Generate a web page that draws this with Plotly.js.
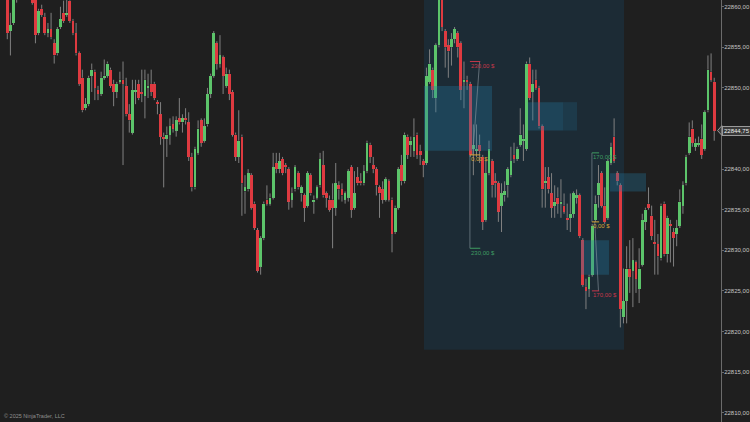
<!DOCTYPE html>
<html>
<head>
<meta charset="utf-8">
<script src="https://cdn.plot.ly/plotly-3.0.1.min.js"></script>
<style>
  html, body { margin: 0; padding: 0; background: #1f1f1f; }
  #chart { width: 750px; height: 422px; }
</style>
</head>
<body>
<div id="chart"></div>
<script>
// NQ 1-minute bars (OHLC), oldest first
const opens = [
  22862.0, 22857.0, 22858.0, 22863.0, 22861.0, 22862.5, 22864.0, 22863.0, 22861.75, 22861.0,
  22856.75, 22859.75, 22858.75, 22856.75, 22857.25, 22855.5, 22854.25, 22857.5, 22859.25, 22859.0,
  22860.75, 22858.25, 22856.75, 22854.25, 22851.25, 22847.5, 22848.0, 22851.5, 22852.0, 22849.75,
  22849.25, 22851.25, 22851.5, 22852.25, 22850.5, 22849.5, 22850.75, 22851.0, 22850.25, 22846.75,
  22844.5, 22849.5, 22850.5, 22849.5, 22849.0, 22850.0, 22850.5, 22850.5, 22848.25, 22846.75,
  22844.0, 22843.75, 22844.25, 22845.5, 22844.75, 22846.25, 22845.75, 22846.25, 22845.75, 22841.5,
  22837.75, 22842.0, 22846.0, 22843.5, 22845.5, 22849.25, 22851.5, 22855.5, 22853.0, 22853.75,
  22850.25, 22851.75, 22849.5, 22844.25, 22841.5, 22844.0, 22837.25, 22837.5, 22839.25, 22835.75,
  22832.5, 22828.0, 22831.5, 22836.25, 22835.75, 22836.5, 22840.75, 22840.0, 22841.25, 22840.5,
  22840.0, 22836.25, 22837.5, 22839.5, 22837.0, 22836.75, 22835.5, 22839.25, 22836.0, 22836.5,
  22838.0, 22840.5, 22837.0, 22836.25, 22836.25, 22835.25, 22838.0, 22837.5, 22836.25, 22836.5,
  22840.25, 22835.25, 22839.0, 22838.5, 22838.25, 22839.75, 22843.0, 22840.5, 22840.0, 22837.75,
  22837.5, 22836.25, 22838.5, 22836.25, 22832.25, 22835.25, 22840.5, 22838.5, 22844.0, 22843.0,
  22842.25, 22844.25, 22842.25, 22841.0, 22840.75, 22850.75, 22852.25, 22848.75, 22855.25, 22861.5,
  22857.0, 22855.25, 22855.0, 22856.0, 22856.75, 22855.5, 22850.75, 22851.0, 22850.5, 22842.5,
  22842.25, 22843.0, 22841.5, 22833.75, 22839.5, 22841.0, 22838.5, 22838.25, 22835.5, 22836.75,
  22838.0, 22839.25, 22841.75, 22841.25, 22843.0, 22843.5, 22842.5, 22853.0, 22849.5, 22851.0,
  22850.0, 22845.25, 22838.25, 22839.0, 22837.0, 22835.5, 22836.5, 22835.75, 22835.5, 22834.0,
  22834.0, 22834.5, 22836.5, 22836.75, 22831.25, 22825.5, 22825.25, 22827.0, 22833.75, 22836.75,
  22839.5, 22835.5, 22834.0, 22840.75, 22844.0, 22839.5, 22838.0, 22821.75, 22823.75, 22827.75,
  22827.5, 22828.5, 22825.25, 22828.25, 22833.5, 22835.75, 22834.25, 22831.0, 22830.75, 22829.0,
  22835.75, 22829.5, 22833.25, 22832.25, 22832.0, 22833.0, 22835.5, 22838.25, 22842.0, 22845.0,
  22842.75, 22843.0, 22843.75, 22842.5, 22847.25, 22852.0, 22850.75
];
const highs = [
  22863.25, 22859.25, 22862.5, 22863.5, 22863.0, 22864.5, 22864.75, 22863.5, 22862.0, 22861.5,
  22859.75, 22860.25, 22859.25, 22858.0, 22859.25, 22856.0, 22857.5, 22860.0, 22860.75, 22861.25,
  22861.5, 22858.5, 22858.0, 22854.5, 22852.25, 22848.75, 22851.5, 22853.0, 22852.25, 22850.25,
  22852.0, 22853.5, 22853.25, 22852.5, 22851.0, 22850.75, 22852.0, 22853.25, 22851.25, 22848.0,
  22851.0, 22851.0, 22851.0, 22852.25, 22852.25, 22851.75, 22852.25, 22850.75, 22848.5, 22848.25,
  22844.5, 22845.25, 22846.25, 22846.5, 22846.5, 22848.75, 22846.75, 22847.5, 22847.0, 22842.0,
  22842.75, 22846.0, 22846.25, 22846.25, 22850.0, 22851.75, 22857.0, 22855.75, 22856.5, 22854.0,
  22852.5, 22852.25, 22849.75, 22844.5, 22847.25, 22844.25, 22839.25, 22840.0, 22839.5, 22836.0,
  22832.75, 22831.75, 22836.0, 22838.0, 22837.0, 22842.0, 22842.0, 22842.0, 22841.5, 22840.75,
  22840.25, 22837.75, 22840.5, 22839.75, 22838.0, 22837.0, 22839.75, 22839.5, 22836.75, 22838.0,
  22842.0, 22842.25, 22837.25, 22836.75, 22838.25, 22840.75, 22838.5, 22838.25, 22837.25, 22840.0,
  22840.5, 22839.75, 22840.25, 22839.5, 22840.5, 22843.5, 22843.25, 22841.5, 22840.25, 22838.0,
  22838.5, 22839.0, 22838.75, 22836.5, 22835.5, 22840.25, 22841.75, 22844.5, 22844.25, 22844.0,
  22846.25, 22844.5, 22843.0, 22841.25, 22852.5, 22854.75, 22852.5, 22855.5, 22862.0, 22862.5,
  22857.25, 22856.0, 22856.75, 22857.5, 22857.0, 22855.75, 22853.25, 22851.5, 22850.75, 22845.5,
  22845.5, 22844.25, 22841.75, 22841.25, 22843.5, 22841.25, 22839.5, 22838.5, 22838.25, 22838.5,
  22840.25, 22842.75, 22843.25, 22842.75, 22847.5, 22845.5, 22853.25, 22853.75, 22852.25, 22852.25,
  22850.25, 22845.5, 22840.25, 22840.25, 22839.5, 22838.0, 22837.75, 22838.75, 22837.0, 22835.75,
  22837.0, 22837.25, 22837.5, 22837.0, 22831.5, 22826.5, 22827.0, 22833.25, 22836.75, 22840.5,
  22839.75, 22837.75, 22841.25, 22843.25, 22846.25, 22839.75, 22838.25, 22827.75, 22830.5, 22831.25,
  22831.5, 22828.75, 22830.25, 22834.5, 22835.25, 22837.75, 22835.5, 22833.75, 22832.0, 22835.75,
  22836.0, 22834.25, 22833.75, 22832.75, 22833.75, 22837.5, 22838.5, 22841.75, 22845.75, 22846.0,
  22843.75, 22844.0, 22845.5, 22847.25, 22854.0, 22854.25, 22851.25
];
const lows = [
  22856.0, 22854.0, 22857.75, 22860.5, 22861.0, 22862.25, 22862.5, 22861.25, 22860.25, 22855.5,
  22856.5, 22858.75, 22856.5, 22856.25, 22856.0, 22853.0, 22854.0, 22857.25, 22858.0, 22858.75,
  22858.0, 22856.5, 22854.0, 22850.25, 22847.0, 22847.25, 22847.75, 22849.5, 22848.5, 22848.5,
  22849.0, 22851.0, 22851.25, 22850.0, 22847.75, 22848.75, 22850.5, 22840.5, 22846.5, 22844.5,
  22844.25, 22848.0, 22848.5, 22848.25, 22846.25, 22848.75, 22849.0, 22848.5, 22846.75, 22843.0,
  22837.75, 22841.5, 22843.0, 22844.5, 22844.0, 22845.5, 22844.5, 22845.5, 22841.0, 22837.25,
  22837.5, 22841.75, 22842.75, 22843.25, 22845.25, 22848.75, 22851.25, 22852.25, 22852.5, 22849.25,
  22850.0, 22848.5, 22844.0, 22841.0, 22840.75, 22834.25, 22834.5, 22837.25, 22835.0, 22832.5,
  22827.25, 22827.0, 22831.25, 22835.5, 22835.5, 22836.25, 22839.5, 22839.5, 22839.25, 22839.5,
  22835.0, 22835.25, 22837.25, 22837.5, 22836.0, 22833.5, 22835.25, 22836.75, 22834.5, 22836.25,
  22837.75, 22836.5, 22835.25, 22834.75, 22830.25, 22834.25, 22836.25, 22836.0, 22835.75, 22836.0,
  22834.0, 22835.0, 22838.0, 22838.0, 22838.0, 22839.5, 22840.75, 22839.5, 22836.75, 22834.0,
  22835.75, 22836.0, 22836.0, 22829.75, 22832.0, 22835.0, 22838.0, 22838.25, 22841.25, 22841.5,
  22841.5, 22841.25, 22840.5, 22839.0, 22840.5, 22850.5, 22848.75, 22847.0, 22855.0, 22857.0,
  22852.5, 22851.25, 22852.75, 22855.5, 22853.75, 22848.5, 22847.5, 22849.75, 22841.5, 22839.25,
  22841.5, 22840.75, 22832.5, 22833.5, 22839.25, 22836.5, 22836.5, 22833.5, 22832.25, 22836.0,
  22836.5, 22839.0, 22840.75, 22841.0, 22842.75, 22841.0, 22842.25, 22848.5, 22846.0, 22849.75,
  22845.0, 22835.25, 22835.25, 22837.0, 22834.0, 22834.0, 22834.5, 22834.0, 22834.5, 22832.5,
  22832.25, 22834.0, 22835.75, 22831.5, 22825.5, 22822.75, 22824.25, 22826.75, 22833.5, 22835.25,
  22835.25, 22833.25, 22833.75, 22840.5, 22840.75, 22838.0, 22820.5, 22821.0, 22821.0, 22824.75,
  22823.0, 22824.75, 22823.5, 22828.0, 22832.5, 22835.0, 22831.25, 22827.0, 22827.0, 22828.75,
  22829.25, 22828.5, 22828.5, 22828.0, 22830.5, 22832.75, 22834.5, 22838.0, 22841.75, 22842.75,
  22842.25, 22842.75, 22841.25, 22842.25, 22847.0, 22850.75, 22843.5
];
const closes = [
  22856.75, 22857.75, 22861.75, 22861.0, 22862.5, 22864.0, 22863.0, 22861.75, 22860.5, 22856.5,
  22859.5, 22859.0, 22856.75, 22857.25, 22856.25, 22854.0, 22857.25, 22858.5, 22858.25, 22859.25,
  22858.25, 22856.75, 22854.25, 22850.5, 22847.25, 22848.0, 22851.25, 22852.25, 22850.0, 22849.25,
  22851.25, 22851.5, 22853.0, 22850.25, 22849.5, 22850.5, 22851.0, 22850.5, 22846.75, 22846.0,
  22849.75, 22849.75, 22848.75, 22849.25, 22851.0, 22850.25, 22849.5, 22848.75, 22848.0, 22844.0,
  22843.75, 22844.25, 22845.25, 22845.0, 22846.0, 22845.75, 22846.25, 22846.0, 22841.5, 22837.75,
  22842.5, 22845.0, 22843.25, 22845.25, 22849.25, 22851.5, 22856.75, 22853.0, 22854.0, 22851.5,
  22851.75, 22849.25, 22844.25, 22841.5, 22843.5, 22838.25, 22837.75, 22839.5, 22835.25, 22832.75,
  22827.5, 22831.5, 22835.75, 22835.75, 22836.5, 22840.25, 22840.0, 22841.0, 22839.5, 22840.25,
  22836.0, 22837.0, 22840.25, 22837.75, 22837.75, 22835.25, 22839.5, 22837.0, 22836.25, 22837.75,
  22841.25, 22836.75, 22836.5, 22835.0, 22835.25, 22838.25, 22837.5, 22836.75, 22837.0, 22839.75,
  22835.0, 22837.0, 22838.25, 22838.25, 22839.75, 22843.25, 22841.5, 22840.0, 22838.0, 22837.0,
  22836.25, 22838.75, 22836.25, 22832.0, 22835.25, 22840.0, 22838.5, 22844.25, 22841.75, 22843.5,
  22844.0, 22841.75, 22841.75, 22840.5, 22851.5, 22853.0, 22849.75, 22855.25, 22861.5, 22857.5,
  22855.0, 22854.5, 22856.0, 22857.25, 22855.0, 22849.75, 22851.0, 22850.75, 22841.75, 22843.0,
  22842.5, 22842.25, 22833.5, 22839.5, 22842.5, 22838.0, 22838.25, 22834.75, 22837.0, 22837.25,
  22840.0, 22841.0, 22841.25, 22842.5, 22844.25, 22843.75, 22853.0, 22848.75, 22850.5, 22850.0,
  22845.25, 22837.5, 22838.5, 22837.5, 22835.25, 22836.0, 22835.75, 22836.0, 22834.75, 22833.75,
  22834.5, 22837.0, 22836.75, 22831.75, 22825.75, 22825.0, 22826.75, 22833.0, 22835.75, 22838.25,
  22835.5, 22833.5, 22841.0, 22842.75, 22841.0, 22838.5, 22822.75, 22823.75, 22827.75, 22826.75,
  22828.75, 22826.5, 22827.75, 22833.75, 22835.0, 22835.25, 22831.75, 22830.75, 22829.25, 22835.5,
  22829.5, 22834.0, 22833.0, 22831.5, 22832.75, 22836.0, 22838.0, 22841.5, 22844.0, 22843.25,
  22843.25, 22843.25, 22841.75, 22847.0, 22852.25, 22851.0, 22844.75
];

// Price scale labels (22845 sits under the last-price marker)
const priceTicks = [22810, 22815, 22820, 22825, 22830, 22835, 22840, 22850, 22855, 22860];

// Highlighted price zones: bar span (fractional index) and price band
const zoneFrom  = [133.22, 166.47, 177.66, 192.70, 183.40];
const zoneTo    = [154.96, 177.66, 182.14, 204.20, 192.36];
const zoneHigh  = [22850.25, 22848.25, 22848.25, 22839.5, 22831.25];
const zoneLow   = [22842.25, 22844.75, 22844.75, 22837.25, 22827.0];
const zoneAlpha = [0.33, 0.33, 0.2, 0.33, 0.33];

// Session block behind the later bars
const sessionFrom = 133.22, sessionTo = 197.16, sessionLow = 22817.75;

// Risk / reward tools: anchor bar, entry, target and stop prices
const rrBar    = [148, 187];
const rrEntry  = [22841.75, 22833.5];
const rrTarget = [22830.25, 22842.0];
const rrStop   = [22853.25, 22825.0];
const rrLen    = [3.2, 2.2];
const POINT_VALUE = 20;

const N = closes.length;
if (new Set([opens.length, highs.length, lows.length, closes.length]).size !== 1) {
  throw new Error('OHLC arrays differ in length');
}

const UP = '#5cc46a', DOWN = '#de3a40', WICK = '#808080';
const FONT = 'Liberation Sans, Arial, sans-serif';
const idx = closes.map((_, i) => i);
const isUp = closes.map((c, i) => c >= opens[i]);
const bodyTop = closes.map((c, i) => Math.max(c, opens[i]));
const bodyBase = closes.map((c, i) => Math.min(c, opens[i]));
const bodyLen = closes.map((c, i) => Math.max(Math.abs(c - opens[i]), 0.15));

// wicks are split around the body so the scatter layer never covers it
const wickX = [], wickY = [];
for (let i = 0; i < N; i++) {
  if (highs[i] > bodyTop[i]) { wickX.push(i, i, null); wickY.push(bodyTop[i], highs[i], null); }
  if (lows[i] < bodyBase[i]) { wickX.push(i, i, null); wickY.push(lows[i], bodyBase[i], null); }
}

const wicks = {
  type: 'scatter', mode: 'lines', x: wickX, y: wickY,
  line: { color: WICK, width: 1 }, hoverinfo: 'skip', connectgaps: false
};
const bodies = {
  type: 'bar', x: idx, y: bodyLen, base: bodyBase, width: 0.88,
  marker: { color: isUp.map(u => u ? UP : DOWN), line: { width: 0 } },
  hoverinfo: 'skip'
};

const money = v => v.toFixed(2).replace('.', ',') + ' $';
const priceText = v => v.toFixed(2).replace('.', ',');

const shapes = [
  { type: 'rect', xref: 'x', yref: 'y', x0: sessionFrom, x1: sessionTo,
    y0: sessionLow, y1: 22900, fillcolor: '#1c2b35', line: { width: 0 }, layer: 'below' }
];
for (let k = 0; k < zoneFrom.length; k++) {
  shapes.push({
    type: 'rect', xref: 'x', yref: 'y', x0: zoneFrom[k], x1: zoneTo[k],
    y0: zoneLow[k], y1: zoneHigh[k],
    fillcolor: 'rgba(35,120,160,' + zoneAlpha[k] + ')', line: { width: 0 }, layer: 'above'
  });
}

const annotations = [];
const RR_GREEN = '#3f9d62', RR_RED = '#c8374a', RR_ORANGE = '#d9a536', RR_LINK = 'rgba(150,160,170,0.55)';
for (let k = 0; k < rrBar.length; k++) {
  const b = rrBar[k];
  // links from entry to target and stop
  shapes.push({ type: 'line', xref: 'x', yref: 'y', x0: b - 0.1, x1: b - 0.1,
    y0: rrEntry[k], y1: rrTarget[k], line: { color: RR_LINK, width: 1 }, layer: 'above' });
  shapes.push({ type: 'line', xref: 'x', yref: 'y', x0: b + 0.8, x1: b + rrLen[k] - 0.2,
    y0: rrEntry[k], y1: rrStop[k], line: { color: RR_LINK, width: 1 }, layer: 'above' });
  const levels = [
    [rrTarget[k], RR_GREEN, money(Math.abs(rrTarget[k] - rrEntry[k]) * POINT_VALUE)],
    [rrEntry[k], RR_ORANGE, money(0)],
    [rrStop[k], RR_RED, money(Math.abs(rrStop[k] - rrEntry[k]) * POINT_VALUE)]
  ];
  levels.forEach(([p, col, txt]) => {
    shapes.push({ type: 'line', xref: 'x', yref: 'y', x0: b - 0.1, x1: b + rrLen[k],
      y0: p, y1: p, line: { color: col, width: 1 }, layer: 'above' });
    annotations.push({ xref: 'x', yref: 'y', x: b - 0.1, y: p, text: txt, showarrow: false,
      xanchor: 'left', yanchor: 'top', borderpad: 0, yshift: -0.5,
      font: { family: FONT, size: 6, color: col } });
  });
}

// last price marker on the axis
const last = closes[N - 1];
shapes.push({ type: 'path', xref: 'paper', yref: 'y',
  path: 'M 0.9952,' + last + ' L 1.0012,' + (last + 0.6) + ' L 1.0012,' + (last - 0.6) + ' Z',
  fillcolor: '#3a3a3a', line: { color: '#9a9a9a', width: 1 }, layer: 'above' });
annotations.push({ xref: 'paper', yref: 'y', x: 1.0008, y: last, text: priceText(last),
  showarrow: false, xanchor: 'left', yanchor: 'middle', bgcolor: '#3a3a3a',
  bordercolor: '#9a9a9a', borderwidth: 1, borderpad: 1,
  font: { family: FONT, size: 6, color: '#f0f0f0' } });

annotations.push({ xref: 'paper', yref: 'paper', x: 0, y: 0, xanchor: 'left', yanchor: 'bottom',
  xshift: 2, yshift: 1, showarrow: false, text: '© 2025 NinjaTrader, LLC',
  font: { family: FONT, size: 5.5, color: '#8f8f8f' } });

const layout = {
  width: 750, height: 422,
  margin: { l: 0, r: 29, t: 0, b: 0, pad: 0 },
  paper_bgcolor: '#1f1f1f', plot_bgcolor: '#1f1f1f',
  showlegend: false,
  separators: ',.',
  bargap: 0,
  xaxis: { range: [-2.33, 228.17], visible: false, fixedrange: true },
  yaxis: {
    range: [22808.85, 22860.83], side: 'right', tickmode: 'array', tickvals: priceTicks,
    tickformat: '.2f',
    showgrid: false, zeroline: false, showline: true, linecolor: '#6b6b6b', linewidth: 1,
    ticks: 'outside', ticklen: 2, tickwidth: 1, tickcolor: '#6b6b6b',
    ticklabelstandoff: -1,
    tickfont: { family: FONT, size: 6, color: '#c4c4c4' },
    fixedrange: true
  },
  shapes: shapes,
  annotations: annotations
};

Plotly.newPlot('chart', [wicks, bodies], layout, { staticPlot: true, displayModeBar: false });
</script>
</body>
</html>
